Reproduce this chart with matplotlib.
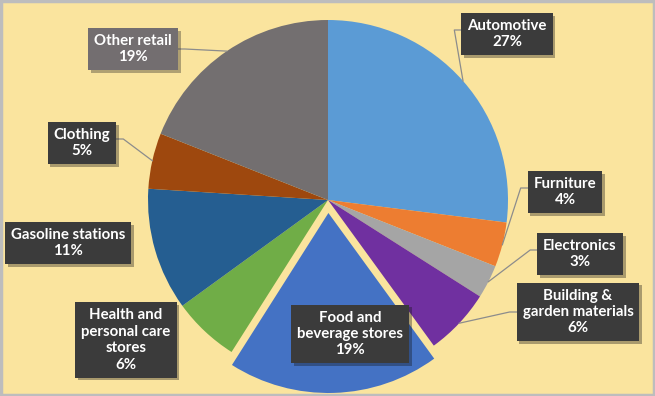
import matplotlib
matplotlib.use("Agg")
import matplotlib.pyplot as plt
import numpy as np
from matplotlib.patches import Rectangle
import matplotlib.patheffects as pe

categories = ['Automotive', 'Furniture', 'Electronics', 'Building &\ngarden materials',
              'Food and\nbeverage stores', 'Health and\npersonal care\nstores',
              'Gasoline stations', 'Clothing', 'Other retail']
shares = [27, 4, 3, 6, 19, 6, 11, 5, 19]
colors = ['#5B9BD5', '#ED7D31', '#A5A5A5', '#7030A0', '#4472C4',
          '#70AD47', '#255E91', '#9E480E', '#736F70']
explode = [0, 0, 0, 0, 13, 0, 0, 0, 0]

# label box centres in pixel coords (x, y from top), and whether a leader is drawn
label_pos = [(507, 34), (565, 192), (580, 254), (578, 312), (350, 334),
             (126, 340), (68, 243), (82, 143), (133, 49)]
leader = [True, True, True, True, False, False, False, True, True]
box_colors = ['#3B3B3B'] * 8 + ['#736E70']

W, H = 655, 396
fig = plt.figure(figsize=(W / 100, H / 100), dpi=100)
fig.patch.set_facecolor('#FAE49E')
ax = fig.add_axes([0, 0, 1, 1])
ax.add_patch(Rectangle((1, 1), W - 2, H - 2, fill=False, edgecolor='#BDBDBD', lw=2.5))

cx, cy, r = 328, H - 200, 180
wedges, _ = ax.pie(shares, colors=colors, startangle=90, counterclock=False,
                   center=(cx, cy), radius=r, explode=explode, frame=True,
                   wedgeprops=dict(linewidth=0))
ax.set_xlim(0, W)
ax.set_ylim(0, H)
ax.set_aspect('equal')
ax.axis('off')

for w, lab, val, (lx, ly), ld, bc in zip(wedges, categories, shares, label_pos, leader, box_colors):
    ly = H - ly
    txt = ax.text(lx, ly, f'{lab}\n{val}%', ha='center', va='center', color='white',
                  fontsize=10.8, fontweight='bold', family='Lato', linespacing=1.22,
                  bbox=dict(boxstyle='square,pad=0.4', fc=bc, ec='none'), zorder=5)
    txt.get_bbox_patch().set_path_effects([pe.SimplePatchShadow(offset=(2, -2), alpha=0.35), pe.Normal()])
    if ld:
        ang = np.deg2rad((w.theta1 + w.theta2) / 2)
        px, py = cx + r * np.cos(ang), cy + r * np.sin(ang)
        fig.canvas.draw()
        bb = txt.get_bbox_patch().get_window_extent().transformed(ax.transData.inverted())
        ex = bb.x0 if lx > cx else bb.x1
        ey = ly + 4 if lab in ('Automotive', 'Furniture', 'Electronics', 'Clothing') else ly
        kx = ex - 7 if lx > cx else ex + 7
        ax.plot([px, kx, ex], [py, ey, ey], color='#8C8C8C', lw=0.9, zorder=4)

fig.savefig('out.png', dpi=100, facecolor=fig.get_facecolor())
